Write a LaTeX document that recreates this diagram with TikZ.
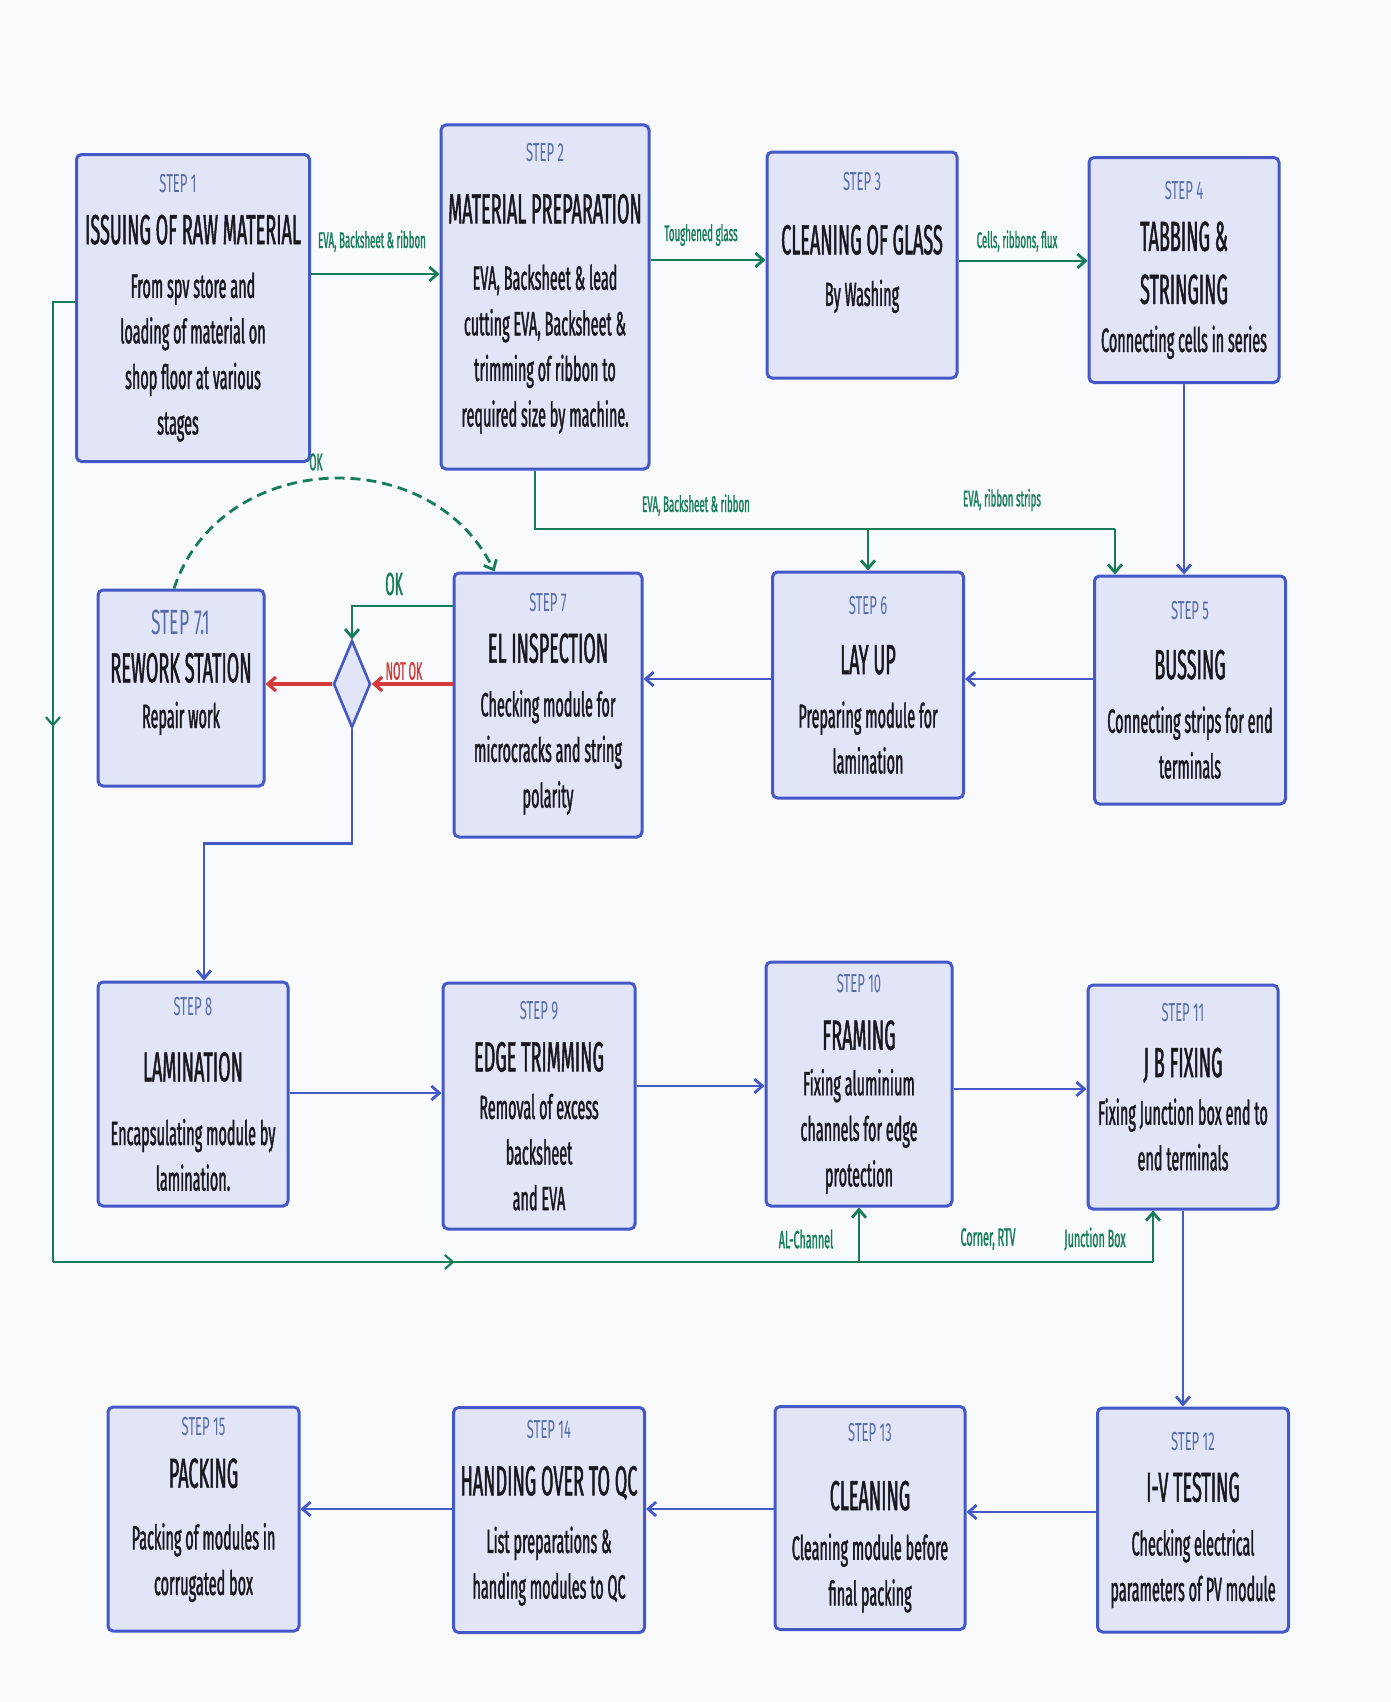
\documentclass[tikz,border=0pt]{standalone}
\usepackage{fontspec}
\setmainfont{Fira Sans}[FakeStretch=0.43, FakeBold=1.1]
\newfontfamily\stepfam{Fira Sans}[FakeStretch=0.5]
\usetikzlibrary{shapes.geometric,arrows.meta,calc,decorations.markings}
\definecolor{pvblue}{RGB}{68,88,200}
\definecolor{pvfill}{RGB}{226,229,248}
\definecolor{pvstep}{RGB}{88,108,168}
\definecolor{pvgreen}{RGB}{22,125,88}
\definecolor{pvred}{RGB}{212,58,58}
\definecolor{pvink}{RGB}{24,24,30}
\definecolor{pvback}{RGB}{248,250,252}
\newcommand{\stepfnt}{\stepfam\fontsize{13}{16}\selectfont\color{pvstep}}
\newcommand{\titlefnt}{\fontsize{21}{26}\selectfont}
\newcommand{\bodyfnt}{\fontsize{16.8}{22.8}\selectfont}
\newcommand{\tagfnt}{\fontsize{11.3}{13}\selectfont}
\newcommand{\padr}{\hspace*{15pt}}

\begin{document}
\begin{tikzpicture}[
    x=0.5pt, y=-0.5pt,
    stepbox/.style={rectangle, rounded corners=2.5pt, draw=pvblue, line width=1.5pt, fill=pvfill, inner sep=0pt, align=center, text=pvink, font=\bodyfnt},
    barrow/.style={-{Straight Barb[length=4pt,width=7pt]}, draw=pvblue, line width=1.4pt},
    garrow/.style={-{Straight Barb[length=4pt,width=7pt]}, draw=pvgreen, line width=1.4pt},
    rarrow/.style={-{Straight Barb[length=4pt,width=7pt]}, draw=pvred, line width=1.6pt},
    gline/.style={draw=pvgreen, line width=1.1pt},
    gdash/.style={-{Straight Barb[length=4pt,width=7pt]}, draw=pvgreen, line width=1.4pt, dash pattern=on 5pt off 3pt},
    tag/.style={text=pvgreen, font=\tagfnt, inner sep=1pt},
    midarrow/.style={decoration={markings, mark=at position #1 with {\arrow{Straight Barb[length=4pt,width=7pt]}}}, postaction=decorate}
]
    % Canvas
    \fill[pvback] (0,0) rectangle (1391,1702);
    \useasboundingbox (0,0) rectangle (1391,1702);

    % Row 1
    \node[stepbox, minimum width=116.5pt, minimum height=153.5pt] (s1) at (193,308)
        {{\stepfnt STEP 1}\padr\\[3pt]{\titlefnt ISSUING OF RAW MATERIAL}\\[4pt]From spv store and\padr\\loading of material on\padr\\shop floor at various\padr\\stages\padr};
    \node[stepbox, minimum width=104pt, minimum height=172pt] (s2) at (545,297)
        {{\stepfnt STEP 2}\\[8pt]{\titlefnt MATERIAL PREPARATION}\\[10.4pt]EVA, Backsheet \& lead\\cutting EVA, Backsheet \&\\trimming of ribbon to\\required size by machine.\\[-10.8pt]{}};
    \node[stepbox, minimum width=95pt, minimum height=113pt] (s3) at (862,265)
        {{\stepfnt STEP 3}\\[9pt]{\titlefnt CLEANING OF GLASS}\\[3pt]By Washing\\[3pt]{}};
    \node[stepbox, minimum width=95pt, minimum height=112.5pt] (s4) at (1184,270)
        {{\stepfnt STEP 4}\\[3pt]{\titlefnt TABBING \&}\\[3.7pt]{\titlefnt STRINGING}\\[1.2pt]Connecting cells in series};

    % Row 2
    \node[stepbox, minimum width=95.5pt, minimum height=114pt] (s5) at (1190,690)
        {{\stepfnt STEP 5}\\[7pt]{\titlefnt BUSSING}\\[4pt]Connecting strips for end\\terminals};
    \node[stepbox, minimum width=95.5pt, minimum height=113pt] (s6) at (868,685)
        {{\stepfnt STEP 6}\\[7pt]{\titlefnt LAY UP}\\[4pt]Preparing module for\\lamination};
    \node[stepbox, minimum width=94pt, minimum height=132pt] (s7) at (548,705)
        {{\stepfnt STEP 7}\\[3pt]{\titlefnt EL INSPECTION}\\[4pt]Checking module for\\microcracks and string\\polarity\\[-18pt]{}};
    \node[stepbox, minimum width=83pt, minimum height=98pt] (s71) at (181,688)
        {{\stepfnt\fontsize{17.5}{20}\selectfont STEP 7.1}\\[1pt]{\titlefnt REWORK STATION}\\[0pt]Repair work\\[-3.8pt]{}};
    \node[diamond, draw=pvblue, fill=pvfill, line width=1.3pt, minimum width=18.5pt, minimum height=43.5pt, inner sep=0pt] (dia) at (352,684) {};

    % Row 3
    \node[stepbox, minimum width=95pt, minimum height=112pt] (s8) at (193,1094)
        {{\stepfnt STEP 8}\\[10.3pt]{\titlefnt LAMINATION}\\[9pt]Encapsulating module by\\lamination.};
    \node[stepbox, minimum width=96pt, minimum height=123pt] (s9) at (539,1106)
        {{\stepfnt STEP 9}\\[3pt]{\titlefnt EDGE TRIMMING}\\[1pt]Removal of excess\\backsheet\\and EVA};
    \node[stepbox, minimum width=93pt, minimum height=122pt] (s10) at (859,1084)
        {{\stepfnt STEP 10}\\[5.7pt]{\titlefnt FRAMING}\\[0pt]Fixing aluminium\\channels for edge\\protection};
    \node[stepbox, minimum width=95pt, minimum height=112pt] (s11) at (1183,1097)
        {{\stepfnt STEP 11}\\[5pt]{\titlefnt J B FIXING}\\[1pt]Fixing Junction box end to\\end terminals\\[-12.5pt]{}};

    % Row 4
    \node[stepbox, minimum width=95.5pt, minimum height=112pt] (s12) at (1193,1520)
        {{\stepfnt STEP 12}\\[3pt]{\titlefnt I-V TESTING}\\[4pt]Checking electrical\\parameters of PV module};
    \node[stepbox, minimum width=95pt, minimum height=111.5pt] (s13) at (870,1518)
        {{\stepfnt STEP 13}\\[11.4pt]{\titlefnt CLEANING}\\[2pt]Cleaning module before\\final packing};
    \node[stepbox, minimum width=95.5pt, minimum height=112.5pt] (s14) at (549,1520)
        {{\stepfnt STEP 14}\\[5.8pt]{\titlefnt HANDING OVER TO QC}\\[6pt]List preparations \&\\handing modules to QC\\[-12pt]{}};
    \node[stepbox, minimum width=95.5pt, minimum height=112pt] (s15) at (203.5,1519)
        {{\stepfnt STEP 15}\\[3.2pt]{\titlefnt PACKING}\\[8pt]Packing of modules in\\corrugated box\\[-10pt]{}};

    % Material feed (green)
    \draw[garrow] (s1.east |- 0,274) -- (s2.west |- 0,274);
    \draw[garrow] (s2.east |- 0,260) -- (s3.west |- 0,260);
    \draw[garrow] (s3.east |- 0,261) -- (s4.west |- 0,261);
    \coordinate (busR) at (1115,529);
    \draw[gline] ([xshift=-5pt]s2.south) |- (busR);
    \draw[garrow] (busR) -- (s5.north -| busR);
    \draw[garrow] (s6.north |- busR) -- (s6.north);

    % Left return line (green)
    \coordinate (gl) at (53,1262);
    \coordinate (gr) at (1153,1262);
    \draw[gline, midarrow=0.455] (s1.west |- 0,302) -- (53,302) -- (gl);
    \draw[gline, midarrow=0.365] (gl) -- (gr);
    \draw[garrow] (gr) -- (gr |- s11.south);
    \draw[garrow] (s10.south |- gl) -- (s10.south);

    % Process flow (blue)
    \draw[barrow] (s4.south) -- (s4.south |- s5.north);
    \draw[barrow] (s5.west |- 0,679) -- (s6.east |- 0,679);
    \draw[barrow] (s6.west |- 0,679) -- (s7.east |- 0,679);
    \draw[barrow] (dia.south) -- ++(0,115) -| ([xshift=5.5pt]s8.north);
    \draw[barrow] (s8.east |- 0,1093) -- (s9.west |- 0,1093);
    \draw[barrow] (s9.east |- 0,1086) -- (s10.west |- 0,1086);
    \draw[barrow] (s10.east |- 0,1089) -- (s11.west |- 0,1089);
    \draw[barrow] (s11.south) -- (s11.south |- s12.north);
    \draw[barrow] (s12.west |- 0,1512) -- (s13.east |- 0,1512);
    \draw[barrow] (s13.west |- 0,1509) -- (s14.east |- 0,1509);
    \draw[barrow] (s14.west |- 0,1509) -- (s15.east |- 0,1509);

    % Inspection decision
    \draw[rarrow] (s7.west |- dia.east) -- (dia.east);
    \draw[rarrow] (dia.west) -- (s71.east |- dia.west);
    \draw[garrow] (s7.west |- 0,606) -| (dia.north);
    \draw[gdash] ([xshift=-3.5pt]s71.north) .. controls (220,450) and (430,440) .. ($(s7.north west)+(42,0)$);

    % Labels
    \node[tag] (t12) at (372,241) {EVA, Backsheet \& ribbon};
    \node[tag] (t23) at (701,235) {Toughened glass};
    \node[tag] (t34) at (1017,241) {Cells, ribbons, flux};
    \node[tag] (tbus1) at (696,505) {EVA, Backsheet \& ribbon};
    \node[tag] (tbus2) at (1002,500) {EVA, ribbon strips};
    \node[tag, font=\fontsize{16}{18}\selectfont] (tok) at (394,584) {OK};
    \node[tag, text=pvred, font=\fontsize{12.5}{14}\selectfont] (tnok) at (404,671) {NOT OK};
    \node[tag, font=\fontsize{12}{14}\selectfont] (tok2) at (316,462) {OK};
    \node[tag, font=\fontsize{12.5}{14}\selectfont] (tal) at (806,1239) {AL-Channel};
    \node[tag, font=\fontsize{12.5}{14}\selectfont] (trtv) at (988,1239) {Corner, RTV};
    \node[tag, font=\fontsize{12.5}{14}\selectfont] (tjb) at (1095,1239) {Junction Box};
\end{tikzpicture}
\end{document}
